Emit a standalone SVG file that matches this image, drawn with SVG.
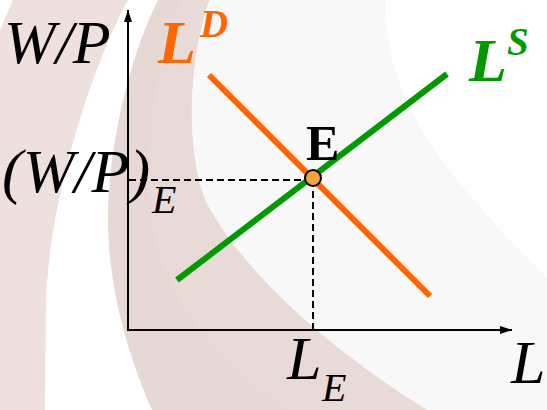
<svg xmlns="http://www.w3.org/2000/svg" width="547" height="410" viewBox="0 0 547 410">
  <style>
    .t { font-family: "Liberation Serif", "Times New Roman", serif; font-style: italic; fill: #000; }
    .big { font-size: 62px; }
    .sub { font-size: 40px; }
    .sup { font-size: 39px; }
    .bold { font-weight: bold; }
    .axis { stroke: #000; stroke-width: 2; fill: none; }
    .dash { stroke: #000; stroke-width: 2; stroke-dasharray: 7 4; fill: none; }
  </style>
  <defs>
    <marker id="arrow" viewBox="0 0 12 8" refX="12" refY="4" markerWidth="12" markerHeight="8" markerUnits="userSpaceOnUse" orient="auto">
      <path d="M0,0 L12,4 L0,8 Z" fill="#000"/>
    </marker>
  </defs>

  <g id="background">
    <rect x="0" y="0" width="547" height="410" fill="#ffffff"/>
    <path d="M185,0 L385,0 C385,100 440,170 547,278 L547,410 L250,410 C150,330 130,200 185,0 Z" fill="#f8f8f8"/>
    <path d="M13,0 L128,0 C90,70 50,200 46,300 L45,410 L0,410 L0,30 Z" fill="#ede0dd"/>
    <path d="M158,0 C128,60 108,150 108,220 C108,290 130,360 152,410 L427,410 C330,350 240,270 205,200 C185,150 188,60 209,0 Z" fill="#e6d8d4"/>
    <path d="M180,0 C150,80 135,200 165,270 C190,330 240,375 290,410 L427,410 C330,350 240,270 205,200 C185,150 188,60 209,0 Z" fill="#e8dad6"/>
  </g>

  <g id="connectors">
    <line class="axis" x1="128" y1="330" x2="128" y2="10" marker-end="url(#arrow)"/>
    <line class="axis" x1="127" y1="330" x2="512" y2="330" marker-end="url(#arrow)"/>
    <line class="dash" x1="129" y1="180" x2="313" y2="180"/>
    <line class="dash" x1="313" y1="180" x2="313" y2="329"/>
  </g>

  <g id="labor-demand">
    <line x1="209" y1="75" x2="430" y2="296" stroke="#ff6600" stroke-width="6"/>
    <text class="t bold big" x="158" y="63" style="fill:#ff6600">L</text>
    <text class="t bold sup" x="200" y="37" style="fill:#ff6600">D</text>
  </g>

  <g id="labor-supply">
    <line x1="177" y1="280" x2="447" y2="74" stroke="#009900" stroke-width="6"/>
    <text class="t bold big" x="469" y="81" style="fill:#009900">L</text>
    <text class="t bold sup" x="507" y="55" style="fill:#009900">S</text>
  </g>

  <g id="equilibrium">
    <circle cx="313" cy="178" r="8" fill="#f0a63a" stroke="#000" stroke-width="2"/>
    <text x="306" y="160" style="font-family:'Liberation Serif','Times New Roman',serif;font-weight:bold;font-size:50px;fill:#000">E</text>
  </g>

  <g id="labels">
    <text class="t big" x="4" y="63">W/P</text>
    <text class="t big" x="2" y="192">(W/P)</text>
    <text class="t sub" x="152" y="213">E</text>
    <text class="t big" x="287" y="379">L</text>
    <text class="t sub" x="322" y="401">E</text>
    <text class="t big" x="511" y="383">L</text>
  </g>
</svg>
